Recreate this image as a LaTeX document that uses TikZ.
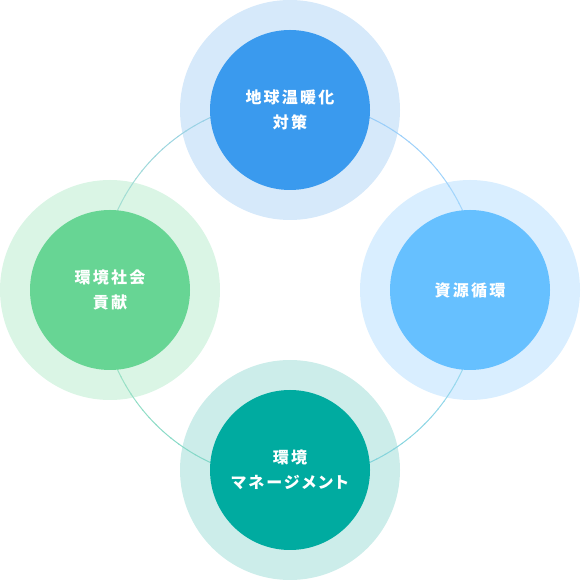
\documentclass[tikz,border=0pt]{standalone}
\usepackage{fontspec}
\newfontfamily\cjk[LetterSpace=14,RawFeature=+palt]{Noto Sans CJK JP}
\definecolor{tIn}{RGB}{58,154,238}
\definecolor{tOut}{RGB}{214,233,250}
\definecolor{rIn}{RGB}{102,192,255}
\definecolor{rOut}{RGB}{217,238,255}
\definecolor{bIn}{RGB}{0,171,160}
\definecolor{bOut}{RGB}{204,237,234}
\definecolor{lIn}{RGB}{103,213,148}
\definecolor{lOut}{RGB}{218,245,229}
\tikzset{
  outer/.style={circle,minimum size=220pt,inner sep=0pt},
  inner/.style={circle,minimum size=160pt,inner sep=0pt,text=white,align=center,
    font=\cjk\bfseries\fontsize{16pt}{25pt}\selectfont},
}
\begin{document}
\begin{tikzpicture}[x=1pt,y=1pt]
\useasboundingbox (0,0) rectangle (580,580);
% outer rings
\node[outer,fill=tOut] (to) at (290,470) {};
\node[outer,fill=rOut] (ro) at (470,290) {};
\node[outer,fill=bOut] (bo) at (290,110) {};
\node[outer,fill=lOut] (lo) at (110,290) {};
% connecting ring with gradient
\coordinate (c) at (290,290);
\foreach \a/\b/\ca/\cb in {90/180/tIn/lIn,180/270/lIn/bIn,270/360/bIn/rIn,0/90/rIn/tIn}{
  \foreach \i in {0,...,29}{
    \pgfmathsetmacro{\s}{\a+(\b-\a)*\i/30}
    \pgfmathsetmacro{\e}{\a+(\b-\a)*(\i+1)/30+0.3}
    \pgfmathsetmacro{\p}{100-100*(\i+0.5)/30}
    \colorlet{segc}{\ca!\p!\cb}
    \draw[line width=1pt,segc!55!white] ([shift={(\s:190)}]c) arc[start angle=\s,end angle=\e,radius=190];
  }
}
% inner circles
\node[inner,fill=tIn] (t) at (290,470) {地球温暖化\\対策};
\node[inner,fill=rIn] (r) at (470,290) {資源循環};
\node[inner,fill=bIn] (b) at (290,110) {環境\\マネージメント};
\node[inner,fill=lIn] (l) at (110,290) {環境社会\\貢献};
\end{tikzpicture}
\end{document}
